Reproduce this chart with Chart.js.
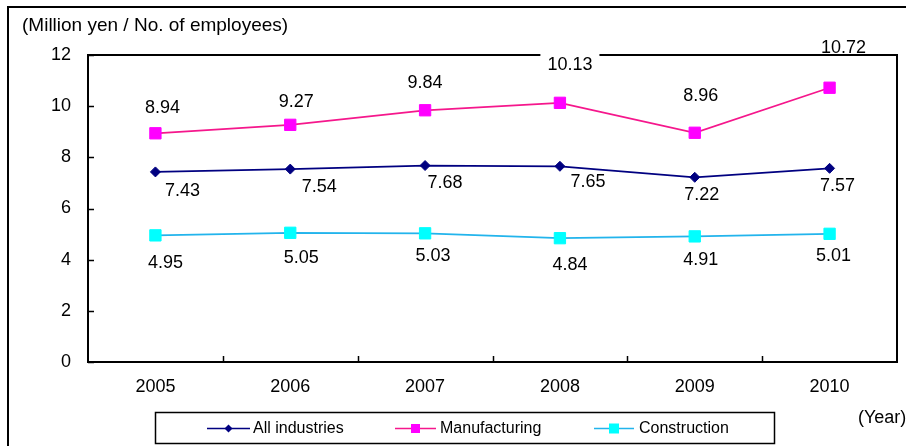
<!DOCTYPE html>
<html>
<head>
<meta charset="utf-8">
<script src="https://cdn.jsdelivr.net/npm/chart.js@4/dist/chart.umd.min.js"></script>
<style>
    html, body { margin: 0; padding: 0; background: #ffffff; }
    #wrap { width: 906px; height: 446px; position: relative; }
</style>
</head>
<body>
<div id="wrap"><canvas id="chart"></canvas></div>
<script>
const years = ['2005', '2006', '2007', '2008', '2009', '2010'];
const allIndustries = [7.43, 7.54, 7.68, 7.65, 7.22, 7.57];
const manufacturing = [8.94, 9.27, 9.84, 10.13, 8.96, 10.72];
const construction = [4.95, 5.05, 5.03, 4.84, 4.91, 5.01];
const yTicks = [0, 2, 4, 6, 8, 10, 12];

const unitTitle = '(Million yen / No. of employees)';
const yearLabel = '(Year)';
const FONT = "'Liberation Sans', Arial, sans-serif";

// where each value label sits relative to its point (dx, dy)
const labelOffsets = [
    [[27, 18], [29, 17], [20, 17], [28, 15], [7, 17], [8, 17]],
    [[7, -26], [6, -24], [0, -28], [10, -39], [6, -38], [14, -41]],
    [[10, 27], [11, 24], [8, 22], [10, 26], [6, 23], [4, 21]]
];
// label that hides the top frame line in the original
const labelCover = [[], [false, false, false, true, false, false], []];

// legend item geometry: line start, line end, text start
const legendItems = [[207, 250, 253], [395, 436, 440], [594, 634, 639]];

function drawMarker(ctx, style, x, y, size, fill) {
    ctx.fillStyle = fill;
    ctx.beginPath();
    if (style === 'rectRot') {
        ctx.moveTo(x - size, y);
        ctx.lineTo(x, y - size);
        ctx.lineTo(x + size, y);
        ctx.lineTo(x, y + size);
        ctx.closePath();
    } else {
        ctx.rect(x - size, y - size, size * 2, size * 2);
    }
    ctx.fill();
}

const framePlugin = {
    id: 'frame',
    beforeDatasetsDraw(chart) {
        const { ctx, chartArea: a } = chart;
        const yScale = chart.scales.y;
        ctx.save();
        ctx.strokeStyle = '#000000';
        ctx.lineWidth = 2;
        ctx.strokeRect(a.left, a.top, a.right - a.left, a.bottom - a.top);

        // tick marks point inward
        ctx.lineWidth = 1.5;
        ctx.beginPath();
        yTicks.forEach(v => {
            const y = Math.round(yScale.getPixelForValue(v)) + 0.5;
            ctx.moveTo(a.left, y);
            ctx.lineTo(a.left + 6, y);
        });
        const step = (a.right - a.left) / years.length;
        for (let i = 1; i < years.length; i++) {
            const x = Math.round(a.left + i * step) + 0.5;
            ctx.moveTo(x, a.bottom);
            ctx.lineTo(x, a.bottom - 6);
        }
        ctx.stroke();
        ctx.restore();
    },
    afterDatasetsDraw(chart) {
        const ctx = chart.ctx;
        ctx.save();
        ctx.font = '18px ' + FONT;
        ctx.textAlign = 'center';
        ctx.textBaseline = 'middle';
        chart.data.datasets.forEach((ds, di) => {
            const meta = chart.getDatasetMeta(di);
            meta.data.forEach((pt, i) => {
                const [dx, dy] = labelOffsets[di][i];
                const x = pt.x + dx;
                const y = pt.y + dy + 1;
                const text = ds.data[i].toFixed(2);
                if (labelCover[di][i]) {
                    const w = ctx.measureText(text).width;
                    ctx.fillStyle = '#ffffff';
                    ctx.fillRect(x - w / 2 - 7, y - 12, w + 14, 22);
                }
                ctx.fillStyle = '#000000';
                ctx.fillText(text, x, y);
            });
        });
        ctx.restore();
    },
    afterDraw(chart) {
        const ctx = chart.ctx;
        ctx.save();
        // outer chart border (cut off at right and bottom)
        ctx.strokeStyle = '#000000';
        ctx.lineWidth = 2;
        ctx.strokeRect(8, 7, 1200, 1200);

        ctx.fillStyle = '#000000';
        ctx.textBaseline = 'middle';
        ctx.textAlign = 'left';
        ctx.font = '19px ' + FONT;
        ctx.fillText(unitTitle, 22, 25.5);
        ctx.font = '18px ' + FONT;
        ctx.fillText(yearLabel, 858, 418);

        // legend box
        ctx.lineWidth = 1.5;
        ctx.strokeRect(155.5, 412.5, 619, 31);
        ctx.font = '16px ' + FONT;
        chart.data.datasets.forEach((ds, i) => {
            const [x1, x2, tx] = legendItems[i];
            const y = 428.5;
            ctx.strokeStyle = ds.borderColor;
            ctx.lineWidth = 1.5;
            ctx.beginPath();
            ctx.moveTo(x1, y);
            ctx.lineTo(x2, y);
            ctx.stroke();
            const size = ds.pointStyle === 'rectRot' ? 4 : (i === 1 ? 4.5 : 5);
            drawMarker(ctx, ds.pointStyle, (x1 + x2) / 2, y, size, ds.pointBackgroundColor);
            ctx.fillStyle = '#000000';
            ctx.fillText(ds.label, tx, y);
        });
        ctx.restore();
    }
};

const ctx = document.getElementById('chart').getContext('2d');
Chart.defaults.font.family = FONT;
Chart.defaults.color = '#000000';

new Chart(ctx, {
    type: 'line',
    data: {
        labels: years,
        datasets: [
            {
                label: 'All industries',
                data: allIndustries,
                borderColor: '#000080',
                borderWidth: 1.75,
                pointStyle: 'rectRot',
                pointRadius: 5,
                pointBorderWidth: 1,
                pointBackgroundColor: '#000080',
                pointBorderColor: '#000080'
            },
            {
                label: 'Manufacturing',
                data: manufacturing,
                borderColor: '#F5178C',
                borderWidth: 1.75,
                pointStyle: 'rect',
                pointRadius: 8,
                pointBorderWidth: 1,
                pointBackgroundColor: '#FF00FF',
                pointBorderColor: '#FF00FF'
            },
            {
                label: 'Construction',
                data: construction,
                borderColor: '#22B4EC',
                borderWidth: 1.75,
                pointStyle: 'rect',
                pointRadius: 8,
                pointBorderWidth: 1,
                pointBackgroundColor: '#00FFFF',
                pointBorderColor: '#00FFFF'
            }
        ]
    },
    options: {
        responsive: true,
        maintainAspectRatio: false,
        animation: false,
        events: [],
        layout: { padding: { left: 0, top: 55, right: 9, bottom: 44 } },
        plugins: {
            legend: { display: false },
            title: { display: false },
            tooltip: { enabled: false }
        },
        scales: {
            x: {
                offset: true,
                grid: { display: false, drawTicks: false },
                border: { display: false },
                ticks: { padding: 14, font: { size: 18 } },
                afterFit(scale) { scale.height = 40; }
            },
            y: {
                min: 0,
                max: 12,
                grid: { display: false, drawTicks: false },
                border: { display: false },
                ticks: { stepSize: 2, padding: 17, font: { size: 18 } },
                afterFit(scale) { scale.width = 88; }
            }
        }
    },
    plugins: [framePlugin]
});
</script>
</body>
</html>
